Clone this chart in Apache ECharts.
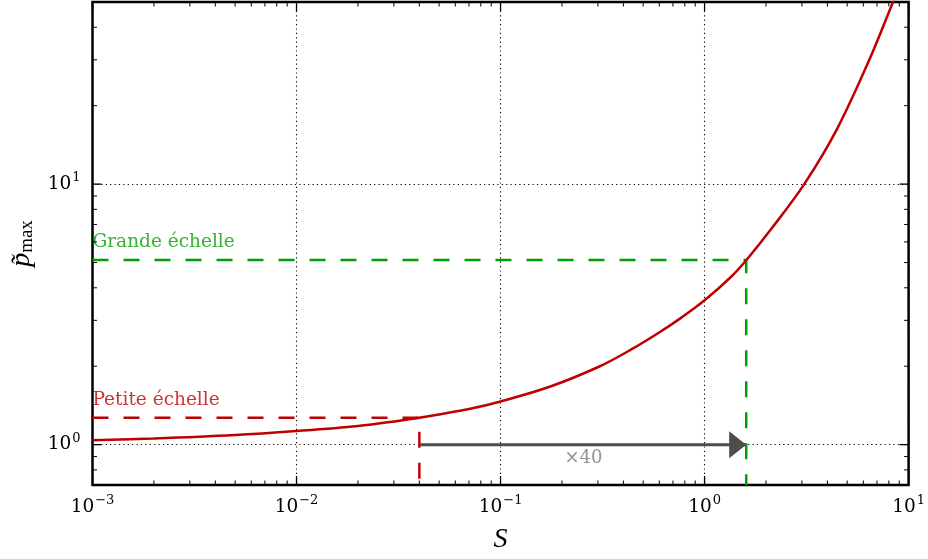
<!DOCTYPE html>
<html><head><meta charset="utf-8">
<script src="https://cdn.jsdelivr.net/npm/echarts@6/dist/echarts.min.js"></script>
<style>html,body{margin:0;padding:0;background:#fff}#c{width:928px;height:559px}</style>
</head><body><div id="c"></div>
<script>
// ---- data ----
const S_values = [0.001, 0.002, 0.005, 0.01, 0.02, 0.0325, 0.04, 0.07, 0.1, 0.174, 0.305, 0.442, 0.596, 0.773, 1.0, 1.354, 1.6, 2.12, 3.08, 4.47, 6.49, 8.36, 8.6];
const p_values = [1.039, 1.055, 1.088, 1.128, 1.18, 1.239, 1.269, 1.37, 1.465, 1.668, 1.995, 2.33, 2.687, 3.08, 3.58, 4.42, 5.1, 6.72, 10.0, 16.34, 30.6, 49.7, 52.5];
const xRange = [0.001, 10];
const yRange = [0.7, 50];
const smallScale = [0.04, 1.269];   // Petite échelle
const largeScale = [1.6, 5.11];     // Grande échelle
const arrowLevel = 1;
const ratioText = '×40';
const ratioPos = [0.255, 1];
const labelSmall = 'Petite échelle';
const labelLarge = 'Grande échelle';
const xName = 'S';
const yNameMain = 'p̃', yNameSub = 'max';
const minorMultipliers = [1, 2, 3, 4, 5, 6, 7, 8, 9];

const RED = '#c00000', GREEN = '#00a000', GREY = '#4d4d4d';
const FONT = 'DejaVu Serif';
const FONT2 = 'Liberation Serif';

function logTicks(lo, hi) {
  const out = [];
  for (let e = Math.floor(Math.log10(lo)); e <= Math.ceil(Math.log10(hi)); e++) {
    minorMultipliers.forEach(m => {
      const v = m * Math.pow(10, e);
      if (v >= lo * 0.9999 && v <= hi * 1.0001) out.push([v, m === 1 ? 1 : 0]);
    });
  }
  return out;
}
const xTicks = logTicks(xRange[0], xRange[1]);
const yTicks = logTicks(yRange[0], yRange[1]);

function powLabel(v) {
  const l = Math.log10(v), e = Math.round(l);
  if (Math.abs(l - e) > 1e-6) return '';
  return '{b|10}{s|' + (e < 0 ? '\u2212' + (-e) : e) + '}';
}
const tickRich = {
  b: { fontFamily: FONT, fontSize: 18.5, color: '#000' },
  s: { fontFamily: FONT, fontSize: 13, color: '#000', padding: [0, 0, 13, 1] }
};

const chart = echarts.init(document.getElementById('c'), null, { renderer: 'canvas' });
const option = {
  animation: false,
  backgroundColor: '#fff',
  grid: { left: 89, right: 16, top: 2, bottom: 73, show: true, borderColor: '#000', borderWidth: 2.5, backgroundColor: 'transparent' },
  xAxis: {
    type: 'log', logBase: 10, min: xRange[0], max: xRange[1],
    axisLine: { show: false }, axisTick: { show: false },
    splitLine: { show: true, lineStyle: { color: '#000', width: 1.1, type: [1.2, 3.2] } },
    axisLabel: { margin: 9, formatter: powLabel, rich: tickRich, showMinLabel: true, showMaxLabel: true },
    name: xName, nameLocation: 'middle', nameGap: 41,
    nameTextStyle: { fontFamily: FONT2, fontStyle: 'italic', fontSize: 28, color: '#000' }
  },
  yAxis: {
    type: 'log', logBase: 10, min: yRange[0], max: yRange[1],
    axisLine: { show: false }, axisTick: { show: false },
    splitLine: { show: true, lineStyle: { color: '#000', width: 1.1, type: [1.2, 3.2] } },
    axisLabel: { margin: 12, formatter: powLabel, rich: tickRich },
    name: '{p|' + yNameMain + '}{m|' + yNameSub + '}', nameLocation: 'middle', nameGap: 56, nameRotate: 90,
    nameTextStyle: {
      rich: {
        p: { fontFamily: FONT2, fontStyle: 'italic', fontSize: 28, color: '#000' },
        m: { fontFamily: FONT2, fontSize: 19, color: '#000', padding: [10, 0, 0, 0] }
      }
    }
  },
  series: [
    {
      type: 'line', data: S_values.map((s, i) => [s, p_values[i]]),
      showSymbol: false, smooth: 0.35, clip: true,
      lineStyle: { color: RED, width: 2.5 }, z: 4
    },
    {
      type: 'line', data: [[xRange[0], smallScale[1]], smallScale, [smallScale[0], yRange[0]]],
      showSymbol: false, clip: true,
      lineStyle: { color: RED, width: 2.5, type: [16, 15] }, z: 3
    },
    {
      type: 'line', data: [[xRange[0], largeScale[1]], largeScale, [largeScale[0], yRange[0]]],
      showSymbol: false, clip: true,
      lineStyle: { color: GREEN, width: 2.5, type: [16, 15] }, z: 3
    },
    {
      type: 'line', silent: true, z: 5, clip: false,
      showSymbol: true, symbol: 'none',
      data: [
        { value: [smallScale[0], arrowLevel] },
        { value: [largeScale[0], arrowLevel], symbol: 'triangle', symbolSize: [27, 17], symbolRotate: -90, symbolOffset: [-8.5, 0], itemStyle: { color: GREY } }
      ],
      lineStyle: { color: GREY, width: 3 }, itemStyle: { color: GREY }
    },
    {
      type: 'scatter', symbolSize: 0, silent: true, z: 6,
      data: [
        { value: [xRange[0], largeScale[1]], name: labelLarge, label: { color: GREEN } },
        { value: [xRange[0], smallScale[1]], name: labelSmall, label: { color: RED } }
      ],
      label: { show: true, position: [0, -27], formatter: p => p.name, fontFamily: FONT, fontSize: 18.5 }
    },
    {
      type: 'scatter', symbolSize: 0, silent: true, z: 6,
      data: [{ value: ratioPos, name: ratioText }],
      label: { show: true, position: 'bottom', distance: 5, formatter: p => p.name, fontFamily: FONT, fontSize: 18, color: '#777' }
    },
    {
      type: 'custom', silent: true, z: 7, data: xTicks,
      renderItem(params, api) {
        const cs = params.coordSys;
        const x = api.coord([api.value(0), arrowLevel])[0];
        const major = api.value(1) === 1;
        const len = major ? 9 : 4.5, st = { stroke: '#000', lineWidth: major ? 1.3 : 1 };
        const yb = cs.y + cs.height, yt = cs.y;
        return { type: 'group', children: [
          { type: 'line', shape: { x1: x, y1: yb, x2: x, y2: yb - len }, style: st },
          { type: 'line', shape: { x1: x, y1: yt, x2: x, y2: yt + len }, style: st }
        ] };
      }
    },
    {
      type: 'custom', silent: true, z: 7, data: yTicks.map(t => [xRange[0], t[0], t[1]]),
      renderItem(params, api) {
        const cs = params.coordSys;
        const y = api.coord([xRange[0], api.value(1)])[1];
        const major = api.value(2) === 1;
        const len = major ? 9 : 4.5, st = { stroke: '#000', lineWidth: major ? 1.3 : 1 };
        const xl = cs.x, xr = cs.x + cs.width;
        return { type: 'group', children: [
          { type: 'line', shape: { x1: xl, y1: y, x2: xl + len, y2: y }, style: st },
          { type: 'line', shape: { x1: xr, y1: y, x2: xr - len, y2: y }, style: st }
        ] };
      }
    }
  ]
};
chart.setOption(option);
</script></body></html>
